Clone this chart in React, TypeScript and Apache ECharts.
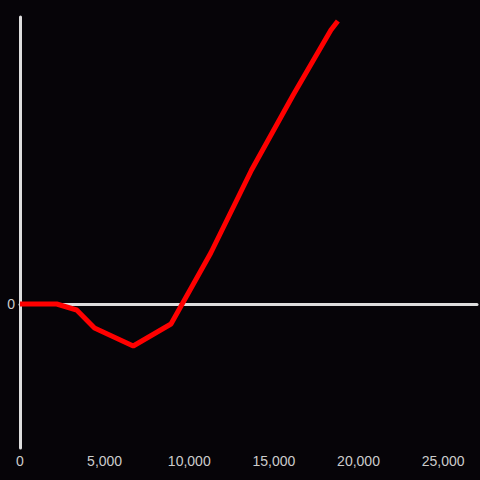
import React, { useEffect, useRef } from "react";
import * as echarts from "echarts";

const xValues = [0, 2170, 3350, 4400, 6690, 8920, 11270, 13680, 16140, 18370, 18780];
const yValues = [0, 0, -6, -24, -42, -20, 51, 134, 209, 274, 283];
const xTicks = [0, 5000, 10000, 15000, 20000, 25000];

const fmt = (v: number) => v.toLocaleString("en-US");

export default function App() {
  const ref = useRef<HTMLDivElement>(null);
  useEffect(() => {
    document.body.style.margin = "0";
    document.body.style.background = "#060408";
    const chart = echarts.init(ref.current!, null, { renderer: "svg" });
    const data = xValues.map((x, i) => [x, yValues[i]]);
    chart.setOption({
      animation: false,
      backgroundColor: "#060408",
      textStyle: { fontFamily: "Liberation Sans, Arial, sans-serif" },
      grid: { left: 20, right: 0, top: 17, bottom: 32, containLabel: false },
      xAxis: [
        {
          type: "value",
          min: 0,
          max: 27000,
          interval: 5000,
          axisLine: { show: true, onZero: true, lineStyle: { color: "#dddddd", width: 3 } },
          axisTick: { show: false },
          axisLabel: { show: false },
          splitLine: { show: false },
        },
        {
          type: "value",
          position: "bottom",
          min: 0,
          max: 27000,
          interval: 5000,
          axisLine: { show: false, onZero: false },
          axisTick: { show: false },
          splitLine: { show: false },
          axisLabel: {
            color: "#cccccc",
            fontSize: 14,
            margin: 6,
            formatter: (v: number) => (xTicks.includes(v) ? fmt(v) : ""),
          },
        },
      ],
      yAxis: {
        type: "value",
        min: -144,
        max: 287,
        interval: 144,
        axisLine: { show: true, onZero: false, lineStyle: { color: "#dddddd", width: 3 } },
        axisTick: { show: false },
        splitLine: { show: false },
        axisLabel: {
          color: "#cccccc",
          fontSize: 14,
          margin: 5,
          formatter: (v: number) => (v === 0 ? "0" : ""),
        },
      },
      series: [
        {
          type: "line",
          xAxisIndex: 0,
          data,
          symbol: "none",
          lineStyle: { color: "#ff0000", width: 5 },
          itemStyle: { color: "#ff0000" },
        },
      ],
    });
    return () => chart.dispose();
  }, []);
  return <div ref={ref} style={{ width: 480, height: 480 }} />;
}
